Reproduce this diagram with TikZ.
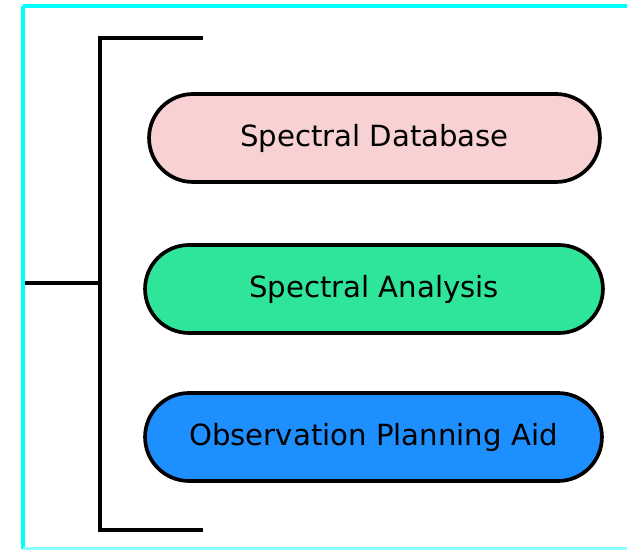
\documentclass[tikz,border=0pt]{standalone}
\usepackage{fontspec}
\setmainfont{DejaVu Sans}
\usepackage{tikz}
\usetikzlibrary{shapes.misc,positioning,calc}
\definecolor{dbpink}{HTML}{F8D2D2}
\definecolor{angreen}{HTML}{2EE59A}
\definecolor{obsblue}{HTML}{1E8FFF}
\definecolor{framecyan}{HTML}{00FFFF}
\tikzset{pill/.style={draw=black,line width=2.1pt,rounded rectangle,minimum height=1.76cm,inner sep=0pt,font=\fontsize{16.6}{20}\selectfont}}

\begin{document}
\begin{tikzpicture}[x=0.02cm, y=-0.02cm, line width=2.1pt]
\useasboundingbox (0,0) rectangle (627,550);
    \draw[framecyan, line width=2pt] (23,6) -- (640,6) (23,6) -- (23,549);
    \draw[framecyan!45, line width=2pt] (23,549) -- (640,549);
    % the bracket
    \coordinate (top) at (203,38);
    \coordinate (bot) at (203,530);
    \coordinate (stub) at (25,283);
    \draw (top) -- (100,38) -- (100,530) -- (bot);
    \draw (stub) -- (100,283);
    % the three parts
    \node[pill,fill=dbpink,minimum width=9.02cm] (db) at (374.5,138) {Spectral Database};
    \node[pill,fill=angreen,minimum width=9.16cm] (an) at (374,289) {Spectral Analysis};
    \node[pill,fill=obsblue,minimum width=9.14cm] (obs) at (373.5,437) {Observation Planning Aid};
\end{tikzpicture}
\end{document}
